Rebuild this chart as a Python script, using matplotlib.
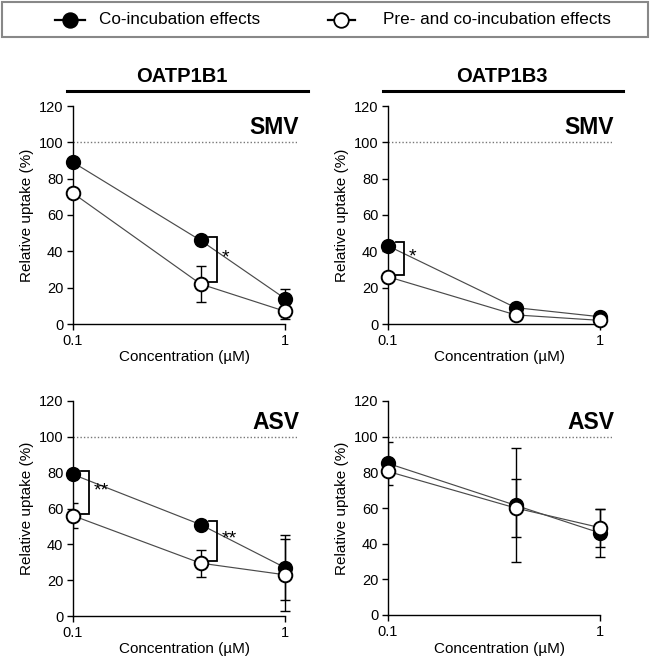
import matplotlib
matplotlib.use("Agg")
import matplotlib.pyplot as plt
from matplotlib.lines import Line2D
from matplotlib.patches import Rectangle
import numpy as np

plt.rcParams['font.family'] = ['Liberation Sans', 'DejaVu Sans']

# ---------------- data ----------------
conc = [0.1, 0.4, 1.0]

# OATP1B1 - SMV
b1_smv_co = [89, 46, 14]
b1_smv_co_err = [0, 0, 5]
b1_smv_pre = [72, 22, 7]
b1_smv_pre_err = [0, 10, 4]

# OATP1B3 - SMV
b3_smv_co = [43, 9, 4]
b3_smv_co_err = [0, 0, 0]
b3_smv_pre = [26, 5, 2]
b3_smv_pre_err = [0, 0, 0]

# OATP1B1 - ASV
b1_asv_co = [79, 51, 27]
b1_asv_co_err = [0, 0, 18]
b1_asv_pre = [56, 29.5, 23]
b1_asv_pre_err = [7, 7.5, 20]

# OATP1B3 - ASV
b3_asv_co = [85, 61.5, 46]
b3_asv_co_err = [12, 32, 13.4]
b3_asv_pre = [80.5, 60, 49]
b3_asv_pre_err = [0, 16, 10.6]

transporters = ["OATP1B1", "OATP1B3"]
drugs = ["SMV", "ASV"]
legend_labels = ["Co-incubation effects", "Pre- and co-incubation effects"]
y_ticks = [0, 20, 40, 60, 80, 100, 120]
x_ticks = [0.1, 1]
x_ticklabels = ["0.1", "1"]

# significance annotations: (x index, label)
sig = {
    ("SMV", "OATP1B1"): [(1, "*")],
    ("SMV", "OATP1B3"): [(0, "*")],
    ("ASV", "OATP1B1"): [(0, "**"), (1, "**")],
    ("ASV", "OATP1B3"): [],
}

panels = {
    ("SMV", "OATP1B1"): (b1_smv_co, b1_smv_co_err, b1_smv_pre, b1_smv_pre_err),
    ("SMV", "OATP1B3"): (b3_smv_co, b3_smv_co_err, b3_smv_pre, b3_smv_pre_err),
    ("ASV", "OATP1B1"): (b1_asv_co, b1_asv_co_err, b1_asv_pre, b1_asv_pre_err),
    ("ASV", "OATP1B3"): (b3_asv_co, b3_asv_co_err, b3_asv_pre, b3_asv_pre_err),
}

# ---------------- layout ----------------
W, H = 650, 661
fig = plt.figure(figsize=(W / 100, H / 100), dpi=100)

def fx(px):
    return px / W

def fy(py):
    return 1 - py / H

xmax = 1.139
ax_pos = {
    ("SMV", "OATP1B1"): (73, 106, 324),
    ("SMV", "OATP1B3"): (388, 106, 324),
    ("ASV", "OATP1B1"): (73, 401, 616),
    ("ASV", "OATP1B3"): (388, 401, 615),
}
decade_px = 212
width_px = decade_px * np.log10(xmax / 0.1)

line_col = "#4a4a4a"

for key, (x0, ytop, ybot) in ax_pos.items():
    ax = fig.add_axes([fx(x0), fy(ybot), width_px / W, (ybot - ytop) / H])
    ax.set_facecolor("none")
    co, co_err, pre, pre_err = panels[key]
    ax.set_xscale("log")
    ax.set_xlim(0.1, xmax)
    ax.set_ylim(0, 120)

    ax.plot([0.1, xmax], [100, 100], ls=(0, (1, 1.5)), color="#777777", lw=1.0, zorder=1)

    ax.errorbar(conc, co, yerr=co_err, fmt="none", ecolor="black", elinewidth=1.0,
                capsize=3.5, capthick=1.0, zorder=2)
    ax.errorbar(conc, pre, yerr=pre_err, fmt="none", ecolor="black", elinewidth=1.0,
                capsize=3.5, capthick=1.0, zorder=2)
    ax.plot(conc, co, color=line_col, lw=0.85, zorder=3)
    ax.plot(conc, pre, color=line_col, lw=0.85, zorder=3)
    ax.plot(conc, co, ls="none", marker="o", ms=9.8, mfc="black", mec="black", mew=1.2, zorder=4,
            clip_on=False)
    ax.plot(conc, pre, ls="none", marker="o", ms=9.8, mfc="white", mec="black", mew=1.4, zorder=5,
            clip_on=False)

    # significance brackets
    for idx, lab in sig[key]:
        xc = conc[idx]
        top = co[idx] + 2
        bot = pre[idx] + 1
        xb = xc * 10 ** (0.077)
        xl = xc * 10 ** (0.04)
        ax.plot([xl, xb, xb, xl], [top, top, bot, bot], color="black", lw=1.3, zorder=3,
                solid_joinstyle="miter")
        ax.text(xc * 10 ** (0.098), (top + bot) / 2 + 1, lab, ha="left", va="center",
                fontsize=14)

    ax.text(1.01, 0.9, key[0], transform=ax.transAxes, ha="right", va="center",
            fontsize=16.5, fontweight="bold")

    for s in ["top", "right"]:
        ax.spines[s].set_visible(False)
    ax.spines["left"].set_bounds(0, 120)
    ax.spines["bottom"].set_bounds(0.1, 1)
    for s in ["left", "bottom"]:
        ax.spines[s].set_linewidth(1.0)
    ax.set_yticks(y_ticks)
    ax.set_xticks(x_ticks)
    ax.set_xticklabels(x_ticklabels)
    ax.xaxis.set_minor_locator(matplotlib.ticker.NullLocator())
    ax.tick_params(axis="both", direction="out", length=4, width=1.0, labelsize=10.5,
                   colors="black", pad=3)
    ax.set_ylabel("Relative uptake (%)", fontsize=11, labelpad=3)
    ax.set_xlabel("Concentration (\u00b5M)", fontsize=11, labelpad=2)

# titles with underline
for name, cx, lx0, lx1 in [("OATP1B1", 182, 67, 308), ("OATP1B3", 502, 383, 623)]:
    fig.text(fx(cx), fy(77), name, ha="center", va="center", fontsize=14.5, fontweight="bold")
    fig.add_artist(Line2D([fx(lx0), fx(lx1)], [fy(91), fy(91)], color="black", lw=2.2))

# legend box
fig.add_artist(Rectangle((fx(2), fy(37)), fx(646), 35 / H, fill=False, edgecolor="#888888",
                         lw=1.5, transform=fig.transFigure))
for (lx0, lx1, mx, tx, fc, lab) in [(55, 85, 70, 99, "black", legend_labels[0]),
                                    (328, 355, 341, 383, "white", legend_labels[1])]:
    fig.add_artist(Line2D([fx(lx0), fx(lx1)], [fy(20), fy(20)], color="black", lw=1.6))
    fig.add_artist(Line2D([fx(mx)], [fy(20)], marker="o", ms=10.5, mfc=fc, mec="black", mew=1.3))
    fig.text(fx(tx), fy(20), lab, ha="left", va="center", fontsize=12.3)

fig.savefig("out.png", dpi=100)
